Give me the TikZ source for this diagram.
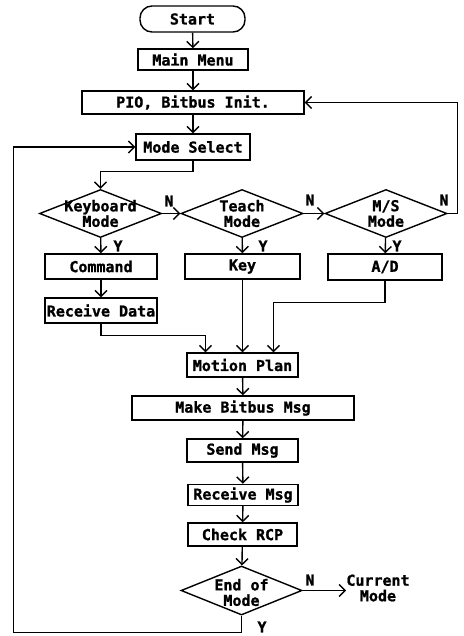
\documentclass[tikz,border=0pt]{standalone}
\usepackage{fontspec}
\usepackage{tikz}
\usetikzlibrary{arrows.meta,shapes.geometric,calc}
\newfontfamily\plotfont[BoldFeatures={FakeBold=1.2}]{DejaVu Sans Mono}
\tikzset{
  txt/.style  = {font=\plotfont\bfseries\fontsize{15}{15.5}\selectfont},
  box/.style  = {txt, draw, line width=1.4pt, inner sep=1pt, align=center},
  term/.style = {box, rounded corners=12pt},
  dec/.style  = {draw, diamond, line width=1.4pt, inner sep=0pt,
                 minimum width=122pt, minimum height=48pt},
  dtext/.style= {txt, align=center, inner sep=0pt},
  flow/.style = {line width=1.4pt, -{Straight Barb[length=6pt,width=12pt,line width=1.4pt]}},
  yn/.style   = {txt, inner sep=0pt},
}
\begin{document}
\begin{tikzpicture}[x=1pt,y=-1pt]
  \useasboundingbox (0,0) rectangle (463,636);
  % upper column
  \node[term, minimum width=105pt, minimum height=26pt] (start) at (192.5,19) {Start};
  \node[box, minimum width=110pt, minimum height=21pt] (menu) at (193,59.5) {Main Menu};
  \node[box, minimum width=222pt, minimum height=23pt] (pio) at (193,102.5) {PIO, Bitbus Init.};
  \node[box, minimum width=114pt, minimum height=26pt] (sel) at (193,147) {Mode Select};
  % mode decisions
  \node[dec, label={[dtext]center:Keyboard\\Mode}] (kb) at (100.5,213.5) {};
  \node[dec, label={[dtext]center:Teach\\Mode}] (teach) at (242,213.5) {};
  \node[dec, label={[dtext]center:M/S\\Mode}] (ms) at (386,213.5) {};
  \node[box, minimum width=112pt, minimum height=25pt] (cmd) at (101,266.5) {Command};
  \node[box, minimum width=115pt, minimum height=25pt] (key) at (242.5,266.5) {Key};
  \node[box, minimum width=114pt, minimum height=26pt] (ad) at (385,267) {A/D};
  \node[box, minimum width=112pt, minimum height=25pt] (recv) at (101,310.5) {Receive Data};
  % lower column
  \node[box, minimum width=111pt, minimum height=24pt] (plan) at (242.5,365) {Motion Plan};
  \node[box, minimum width=222pt, minimum height=24pt] (make) at (243,408) {Make Bitbus Msg};
  \node[box, minimum width=111pt, minimum height=23pt] (send) at (242.5,450.5) {Send Msg};
  \node[box, minimum width=110pt, minimum height=21pt] (rmsg) at (243,495) {Receive Msg};
  \node[box, minimum width=109pt, minimum height=23pt] (chk) at (242.5,534.5) {Check RCP};
  \node[dec, minimum width=121pt, minimum height=49pt,
        label={[dtext,yshift=-2pt]center:End of\\Mode}] (eom) at (241.5,590.5) {};
  \node[dtext] (cur) at (378,588) {Current\\Mode};
  % connectors
  \draw[flow] (start) -- (menu);
  \draw[flow] (menu) -- (pio);
  \draw[flow] (pio) -- (sel);
  \draw[flow] (sel.south) -- ++(0,11) -| (kb.north);
  \draw[flow] (kb.east) -- (teach.west);
  \draw[flow] (teach.east) -- (ms.west);
  \draw[flow] (ms.east) -- ++(10,0) |- (pio.east);
  \draw[flow] (kb) -- (cmd);
  \draw[flow] (teach) -- (key);
  \draw[flow] (ms) -- (ad);
  \draw[flow] (cmd) -- (recv);
  \draw[flow] (recv.south) -- ++(0,12) -| ([xshift=-37pt]plan.north);
  \draw[flow] (key) -- (plan);
  \draw[flow] (ad.south) -- ++(0,22) -| ([xshift=31pt]plan.north);
  \draw[flow] (plan) -- (make);
  \draw[flow] (make) -- (send);
  \draw[flow] (send) -- (rmsg);
  \draw[flow] (rmsg) -- (chk);
  \draw[flow] (chk) -- (eom);
  \draw[flow] (eom.east) -- (eom.east -| cur.west);
  \draw[flow] (eom.south) -- ++(0,17) -| ([xshift=-122pt]sel.west) -- (sel.west);
  % branch labels
  \node[yn] at (169,201) {N};
  \node[yn] at (310,200) {N};
  \node[yn] at (444,200) {N};
  \node[yn] at (310,580) {N};
  \node[yn] at (118,246) {Y};
  \node[yn] at (263,246) {Y};
  \node[yn] at (397,246) {Y};
  \node[yn] at (262,627) {Y};
\end{tikzpicture}
\end{document}
